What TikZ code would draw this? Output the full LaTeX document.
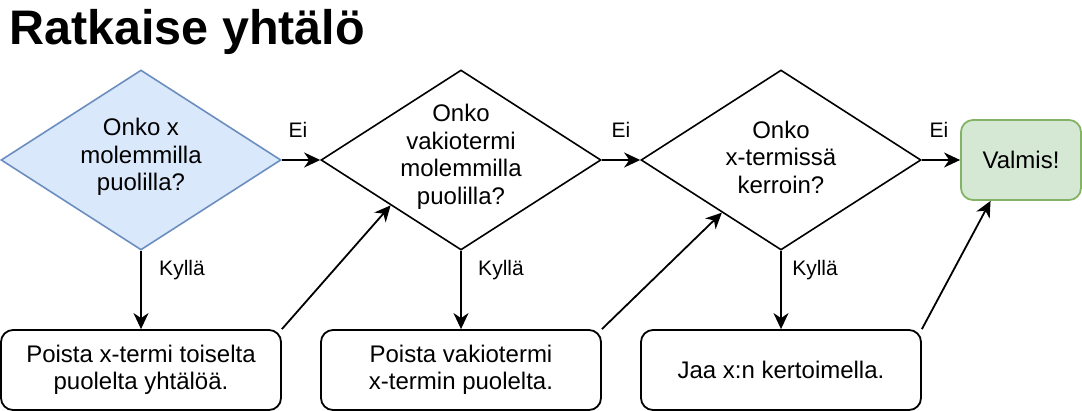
\documentclass[tikz,border=0pt]{standalone}
\usepackage{fontspec}
\setmainfont{Liberation Sans}
\usetikzlibrary{shapes.geometric,arrows.meta,calc}
\definecolor{blueFill}{HTML}{DAE8FC}
\definecolor{blueLine}{HTML}{6C8EBF}
\definecolor{greenFill}{HTML}{D5E8D4}
\definecolor{greenLine}{HTML}{82B366}
\begin{document}
\begin{tikzpicture}[x=1pt,y=-1pt,
  dia/.style={shape=diamond, draw=black, line width=1.6pt, minimum width=280pt, minimum height=180pt, inner sep=0pt, aspect=1.5556},
  txt/.style={align=center, font=\fontsize{24}{27.5}\selectfont, inner sep=0pt},
  stepbox/.style={draw=black, line width=1.8pt, rounded corners=12pt, minimum width=280pt, minimum height=80pt, inner sep=0pt, align=center, font=\fontsize{24}{27.5}\selectfont},
  lbl/.style={font=\fontsize{21}{24}\selectfont, inner sep=0pt},
  conn/.style={line width=1.8pt, -{Stealth[length=16pt, width=15pt, inset=5pt]}}
]
\useasboundingbox (0,0) rectangle (1082,410);
\node[anchor=base west, inner sep=0pt, font=\fontsize{48.5}{52}\selectfont\bfseries] (title) at (9,44) {Ratkaise yhtälö};

\node[dia, fill=blueFill, draw=blueLine] (d1) at (141,160) {};
\node[dia] (d2) at (461,160) {};
\node[dia] (d3) at (781,160) {};
\node[txt] (t1) at (141,157) {Onko x\\molemmilla\\puolilla?};
\node[txt] (t2) at (461,157) {Onko\\vakiotermi\\molemmilla\\puolilla?};
\node[txt] (t3) at (781,157) {Onko\\x-termissä\\kerroin?};

\node[stepbox, fill=greenFill, draw=greenLine, minimum width=120pt] (v) at (1021,160) {Valmis!};

\node[stepbox] (b1) at (141,370) {Poista x-termi toiselta\\puolelta yhtälöä.};
\node[stepbox] (b2) at (461,370) {Poista vakiotermi\\x-termin puolelta.};
\node[stepbox] (b3) at (781,370) {Jaa x:n kertoimella.};

\draw[conn] (d1.east) -- (d2.west);
\draw[conn] (d2.east) -- (d3.west);
\draw[conn] (d3.east) -- (v.west);
\draw[conn] (d1.south) -- (b1.north);
\draw[conn] (d2.south) -- (b2.north);
\draw[conn] (d3.south) -- (b3.north);
\draw[conn] (b1.north east) -- ($(d2.west)!0.5!(d2.south)$);
\draw[conn] (b2.north east) -- ($(d3.west)!0.58!(d3.south)$);
\draw[conn] (b3.north east) -- ($(v.south west)!0.25!(v.south east)$);

\node[lbl] (e1) at (298,130) {Ei};
\node[lbl] (e2) at (621,130) {Ei};
\node[lbl] (e3) at (939,130) {Ei};
\node[lbl] (k1) at (182,270) {Kyllä};
\node[lbl] (k2) at (501,270) {Kyllä};
\node[lbl] (k3) at (815,270) {Kyllä};
\end{tikzpicture}
\end{document}
